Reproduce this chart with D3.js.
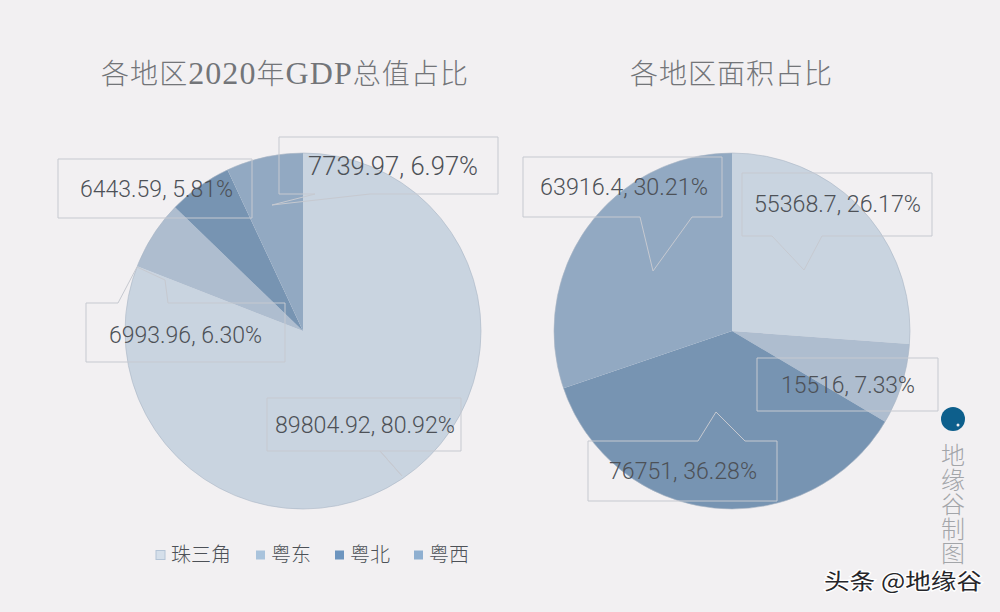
<!DOCTYPE html>
<html>
<head>
<meta charset="utf-8">
<script src="https://cdn.jsdelivr.net/npm/d3@7"></script>
<style>
    html, body { margin: 0; padding: 0; background: #f2f0f2; }
    svg { display: block; }
    text { font-family: "Noto Sans CJK SC", sans-serif; }
</style>
</head>
<body>
<div id="chart"></div>
<script>
const regions = ['珠三角', '粤东', '粤北', '粤西'];
const gdpValues = [89804.92, 6993.96, 6443.59, 7739.97];
const gdpLabels = ['89804.92, 80.92%', '6993.96, 6.30%', '6443.59, 5.81%', '7739.97, 6.97%'];
const areaValues = [55368.7, 15516, 76751, 63916.4];
const areaLabels = ['55368.7, 26.17%', '15516, 7.33%', '76751, 36.28%', '63916.4, 30.21%'];

const sliceColors = ['#c9d4e0', '#aebdcf', '#7794b2', '#92a9c2'];
const legendColors = ['#d5dfea', '#a9c3dc', '#6d95bf', '#8fafd0'];

// callout outlines and text spots, one per slice
const gdpCallouts = [
    { text: [275, 433, 180, 23], outline: [[267, 398], [461, 398], [461, 451], [380, 451], [402, 476], [380, 451], [267, 451]] },
    { text: [109, 343, 153, 23], outline: [[86, 303], [118, 303], [137, 267], [165, 280], [168, 303], [285, 303], [285, 362], [86, 362]] },
    { text: [80, 197, 153, 23], outline: [[58, 159], [252, 159], [252, 218], [58, 218]] },
    { text: [308, 175, 170, 26], outline: [[279, 137], [498, 137], [498, 194], [370, 194], [272, 205], [315, 194], [279, 194]] }
];
const areaCallouts = [
    { text: [754, 212, 167, 23], outline: [[742, 173], [932, 173], [932, 236], [822, 236], [804, 270], [772, 236], [742, 236]] },
    { text: [781, 393, 134, 23], outline: [[757, 358], [938, 358], [938, 411], [757, 411]] },
    { text: [609, 479, 148, 23], outline: [[588, 441], [698, 441], [716, 412], [745, 441], [777, 441], [777, 501], [588, 501]] },
    { text: [540, 195, 168, 23], outline: [[523, 157], [722, 157], [722, 217], [692, 217], [653, 271], [640, 217], [523, 217]] }
];

const width = 1000;
const height = 612;
const radius = 178;

const svg = d3.select('#chart')
    .append('svg')
    .attr('width', width)
    .attr('height', height);

const pie = d3.pie().sort(null);
const arc = d3.arc().innerRadius(0).outerRadius(radius);
const outlineLine = d3.line();

function drawPie(values, labels, callouts, cx, cy) {
    const g = svg.append('g')
        .attr('transform', `translate(${cx},${cy})`);

    g.selectAll('path')
        .data(pie(values))
        .enter()
        .append('path')
        .attr('d', arc)
        .attr('fill', (d, i) => sliceColors[i]);

    g.append('circle')
        .attr('r', radius)
        .attr('fill', 'none')
        .attr('stroke', '#a9b6c4')
        .attr('stroke-width', 0.6);

    svg.append('g')
        .selectAll('path')
        .data(callouts)
        .enter()
        .append('path')
        .attr('d', d => outlineLine(d.outline) + 'Z')
        .attr('fill', 'none')
        .attr('stroke', '#c6c9d0')
        .attr('stroke-width', 1);

    svg.append('g')
        .selectAll('text')
        .data(callouts)
        .enter()
        .append('text')
        .attr('x', d => d.text[0])
        .attr('y', d => d.text[1])
        .attr('font-size', d => d.text[3])
        .attr('textLength', d => d.text[2])
        .attr('lengthAdjust', 'spacingAndGlyphs')
        .attr('fill', '#4d5157')
        .style('font-family', 'Roboto, sans-serif')
        .style('font-weight', 300)
        .text((d, i) => labels[i]);
}

drawPie(gdpValues, gdpLabels, gdpCallouts, 303, 331);
drawPie(areaValues, areaLabels, areaCallouts, 732, 331);

// titles, the latin part is set a bit larger
const gdpTitle = svg.append('text')
    .attr('x', 101)
    .attr('y', 84)
    .attr('font-size', 28)
    .attr('font-weight', 300)
    .attr('textLength', 367)
    .attr('fill', '#737579')
    .style('font-family', '"Liberation Serif", "Noto Sans CJK SC", serif');

gdpTitle.append('tspan').text('各地区');
gdpTitle.append('tspan').attr('font-size', 32).text('2020');
gdpTitle.append('tspan').text('年');
gdpTitle.append('tspan').attr('font-size', 32).text('GDP');
gdpTitle.append('tspan').text('总值占比');

svg.append('text')
    .attr('x', 630)
    .attr('y', 84)
    .attr('font-size', 28)
    .attr('font-weight', 300)
    .attr('textLength', 202)
    .attr('fill', '#737579')
    .text('各地区面积占比');

// legend
const legendX = d3.scaleOrdinal()
    .domain(regions)
    .range([156, 256, 335, 414]);

const legend = svg.append('g')
    .selectAll('g')
    .data(regions)
    .enter()
    .append('g')
    .attr('transform', d => `translate(${legendX(d)},555)`);

legend.append('rect')
    .attr('y', -4.5)
    .attr('width', 9)
    .attr('height', 9)
    .attr('fill', (d, i) => legendColors[i])
    .attr('stroke', (d, i) => i === 0 ? '#b4c4d6' : 'none');

legend.append('text')
    .attr('x', 15)
    .attr('y', 7)
    .attr('font-size', 20)
    .attr('font-weight', 300)
    .attr('fill', '#4d5157')
    .text(d => d);

// logo and credit
svg.append('circle')
    .attr('cx', 953)
    .attr('cy', 419)
    .attr('r', 12)
    .attr('fill', '#0d5f8c');

svg.append('circle')
    .attr('cx', 958)
    .attr('cy', 425)
    .attr('r', 1.5)
    .attr('fill', '#f2f0f2');

svg.append('text')
    .attr('x', 953)
    .attr('y', 443)
    .attr('font-size', 24)
    .attr('font-weight', 300)
    .attr('fill', '#a3a5a9')
    .style('writing-mode', 'vertical-rl')
    .style('letter-spacing', '0.5px')
    .text('地缘谷制图');

// watermark, dark glyphs on a white halo
svg.append('text')
    .attr('x', 824)
    .attr('y', 589)
    .attr('font-size', 22)
    .attr('textLength', 158)
    .attr('lengthAdjust', 'spacingAndGlyphs')
    .attr('fill', '#26262a')
    .style('paint-order', 'stroke')
    .attr('stroke', '#ffffff')
    .attr('stroke-width', 2.5)
    .text('头条 @地缘谷');
</script>
</body>
</html>
